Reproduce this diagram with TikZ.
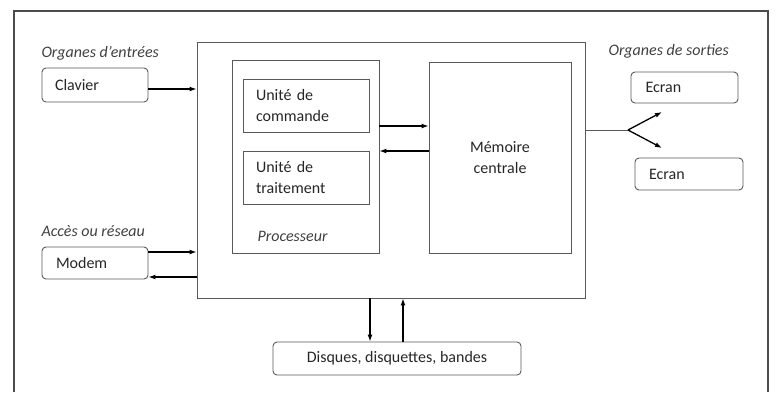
\documentclass[tikz,border=0pt]{standalone}
\usepackage{fontspec}
\setmainfont{Carlito}
\usetikzlibrary{arrows.meta,positioning}

\begin{document}
\begin{tikzpicture}[x=1pt, y=-1pt, font=\fontsize{16}{21}\selectfont, text=black!85,
    boite/.style={draw=black!65, line width=0.9pt, inner sep=0pt},
    arrondi/.style={boite, rounded corners=4pt},
    etiq/.style={anchor=west, font=\fontsize{16}{21}\selectfont\itshape, text=black!75},
    fleche/.style={line width=1.3pt, -{Latex[length=7pt,width=5pt]}}]
    \useasboundingbox (0,0) rectangle (776,392);
    % cadre
    \draw[line width=2pt, black!70] (14,392) -- (14,11) -- (768,11) -- (768,392);
    % ordinateur
    \node[boite, minimum width=388pt, minimum height=256pt] (ordi) at (391,170) {};
    \node[boite, minimum width=147pt, minimum height=193pt] (proc) at (305.5,156.5) {};
    \node[boite, minimum width=126pt, minimum height=53pt, align=left, text width=100pt] (cmd) at (306,105.5) {Unité de\\commande};
    \node[boite, minimum width=126pt, minimum height=53pt, align=left, text width=100pt] (trt) at (306,177.5) {Unité de\\traitement};
    \node[etiq] (nomproc) at (254,236) {Processeur};
    \node[boite, minimum width=142pt, minimum height=191pt, align=center] (mem) at (500,157.5) {Mémoire\\centrale};
    % entrees
    \node[etiq] (entrees) at (38,53) {Organes d'entrées};
    \node[arrondi, minimum width=106pt, minimum height=34pt, text width=80pt, align=left] (clavier) at (95,85) {Clavier};
    \node[etiq] (acces) at (38,231) {Accès ou réseau};
    \node[arrondi, minimum width=106pt, minimum height=32pt, text width=78pt, align=left] (modem) at (95,263) {Modem};
    % sorties
    \node[etiq] (sorties) at (605,51) {Organes de sorties};
    \node[arrondi, minimum width=107pt, minimum height=31pt, text width=78pt, align=left] (ecran1) at (684.5,87.5) {Ecran};
    \node[arrondi, minimum width=108pt, minimum height=32pt, text width=80pt, align=left] (ecran2) at (689,174) {Ecran};
    % stockage
    \node[arrondi, minimum width=248pt, minimum height=33pt] (disques) at (397,358.5) {Disques, disquettes, bandes};
    % liaisons
    \draw[fleche] ([yshift=-4pt]clavier.east) -- ([yshift=-4pt]clavier.east -| ordi.west);
    \draw[fleche] ([yshift=11pt]modem.east) -- ([yshift=11pt]modem.east -| ordi.west);
    \draw[fleche] ([yshift=-14pt]modem.east -| ordi.west) -- ([yshift=-14pt]modem.east);
    \draw[fleche] ([yshift=30.5pt]proc.east) -- ([yshift=30.5pt]proc.east -| mem.west);
    \draw[fleche] ([yshift=6.5pt]mem.west) -- ([yshift=6.5pt]mem.west -| proc.east);
    \draw[fleche] ([xshift=-27pt]disques.north |- ordi.south) -- ([xshift=-27pt]disques.north);
    \draw[fleche] ([xshift=6pt]disques.north) -- ([xshift=6pt]disques.north |- ordi.south);
    \coordinate (fourche) at (628,130);
    \coordinate (haut) at (662,112);
    \coordinate (bas) at (662,148);
    \draw[black!65, line width=0.9pt] (fourche -| ordi.east) -- (fourche);
    \draw[fleche] (fourche) -- (haut);
    \draw[fleche] (fourche) -- (bas);
\end{tikzpicture}
\end{document}
